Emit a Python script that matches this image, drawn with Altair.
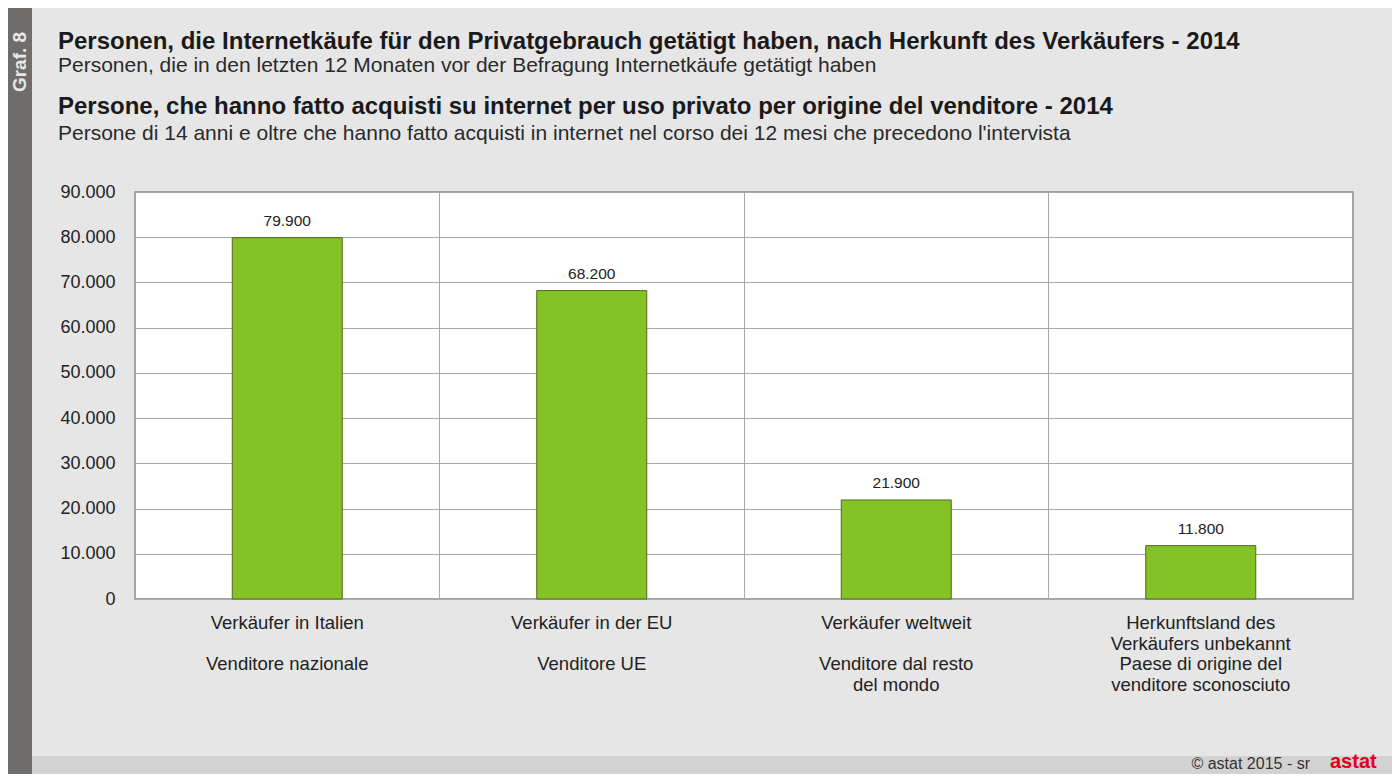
import altair as alt
import pandas as pd

categories_de = [
    "Verkäufer in Italien",
    "Verkäufer in der EU",
    "Verkäufer weltweit",
    "Herkunftsland des|Verkäufers unbekannt",
]
categories_it = [
    "Venditore nazionale",
    "Venditore UE",
    "Venditore dal resto|del mondo",
    "Paese di origine del|venditore sconosciuto",
]
values = [79900, 68200, 21900, 11800]

title_lines = [
    "Personen, die Internetkäufe für den Privatgebrauch getätigt haben, nach Herkunft des Verkäufers - 2014",
    "Personen, die in den letzten 12 Monaten vor der Befragung Internetkäufe getätigt haben",
    "Persone, che hanno fatto acquisti su internet per uso privato per origine del venditore - 2014",
    "Persone di 14 anni e oltre che hanno fatto acquisti in internet nel corso dei 12 mesi che precedono l'intervista",
]
side_label = "Graf. 8"
footer_text = "©  astat 2015 - sr"
logo_text = "astat"

FONT = "Liberation Sans"
W, H = 1218, 407
PL, PT = 127, 184
PR = 1384 - PL - W
PB = 766 - PT - H

df = pd.DataFrame({"cat": categories_de, "it": categories_it, "value": values})
fmt = "replace(format(datum.value, ','), regexp(',', 'g'), '.')"

base = alt.Chart(df)
xenc = alt.X("cat:N", sort=None, title=None,
             scale=alt.Scale(paddingInner=0, paddingOuter=0),
             axis=alt.Axis(grid=True, bandPosition=0, gridColor="#a8a8a8", gridWidth=1,
                           domain=False, ticks=False, labelAngle=0,
                           labelExpr="split(datum.label, '|')",
                           labelFont=FONT, labelFontSize=18.5, labelColor="#222222",
                           labelLineHeight=21, labelPadding=14, labelLimit=400,
                           labelBaseline="top"))

bars = base.mark_bar(size=110, color="#84c225", stroke="#4d6b1e", strokeWidth=1).encode(
    x=xenc,
    y=alt.Y("value:Q", title=None,
            scale=alt.Scale(domain=[0, 90000], nice=False),
            axis=alt.Axis(values=list(range(0, 90001, 10000)), grid=True,
                          gridColor="#a8a8a8", gridWidth=1, domain=False, ticks=False,
                          labelExpr=fmt, labelFont=FONT, labelFontSize=18,
                          labelColor="#222222", labelPadding=20)),
)

labels = base.transform_calculate(lbl=fmt).mark_text(
    font=FONT, fontSize=15.5, color="#222222", dy=-17, baseline="middle"
).encode(x=alt.X("cat:N", sort=None), y="value:Q", text="lbl:N")

it_labels = base.mark_text(
    font=FONT, fontSize=18.5, color="#222222", baseline="top", lineBreak="|",
    lineHeight=21
).encode(x=alt.X("cat:N", sort=None), y=alt.value(H + 56), text="it:N")

# decorations
one = pd.DataFrame({"a": [0]})
side = alt.Chart(one).mark_rect(color="#6e6d6b").encode(
    x=alt.value(-PL), x2=alt.value(-103), y=alt.value(-PT), y2=alt.value(H + PB))
bottom = alt.Chart(one).mark_rect(color="#d2d2d2").encode(
    x=alt.value(-103), x2=alt.value(W + PR), y=alt.value(564), y2=alt.value(H + PB))

side_txt = alt.Chart(pd.DataFrame({"t": [side_label]})).mark_text(
    font=FONT, fontSize=19, fontWeight="bold", color="#e8e8e8", angle=270,
    align="center", baseline="middle").encode(
    x=alt.value(-115), y=alt.value(-130), text="t:N")

title_specs = [
    (title_lines[0], -150, 24, "bold", "#1a1a1a"),
    (title_lines[1], -126, 21, "normal", "#2a2a2a"),
    (title_lines[2], -85, 24, "bold", "#1a1a1a"),
    (title_lines[3], -58, 21, "normal", "#2a2a2a"),
]
title_layers = []
for t, y, fs, fw, c in title_specs:
    title_layers.append(
        alt.Chart(pd.DataFrame({"t": [t]})).mark_text(
            font=FONT, fontSize=fs, fontWeight=fw, color=c, align="left",
            baseline="middle").encode(x=alt.value(-77), y=alt.value(y), text="t:N"))

footer = alt.Chart(pd.DataFrame({"t": [footer_text]})).mark_text(
    font=FONT, fontSize=16, color="#333333", align="right", baseline="middle").encode(
    x=alt.value(1175), y=alt.value(572), text="t:N")
logo = alt.Chart(pd.DataFrame({"t": [logo_text]})).mark_text(
    font=FONT, fontSize=20, fontWeight="bold", color="#e2001a", align="left",
    baseline="middle").encode(x=alt.value(1195), y=alt.value(570), text="t:N")

chart = alt.layer(side, bottom, side_txt, *title_layers, footer, logo, bars, labels,
                  it_labels).properties(
    width=W, height=H,
    autosize=alt.AutoSizeParams(type="none"),
    padding={"left": PL, "top": PT, "right": PR, "bottom": PB},
    background="#e6e6e6",
).configure_view(fill="white", stroke="#8a8a8a", strokeWidth=1.5)

chart.save("out.html", embed_options={"renderer": "svg", "actions": False})
